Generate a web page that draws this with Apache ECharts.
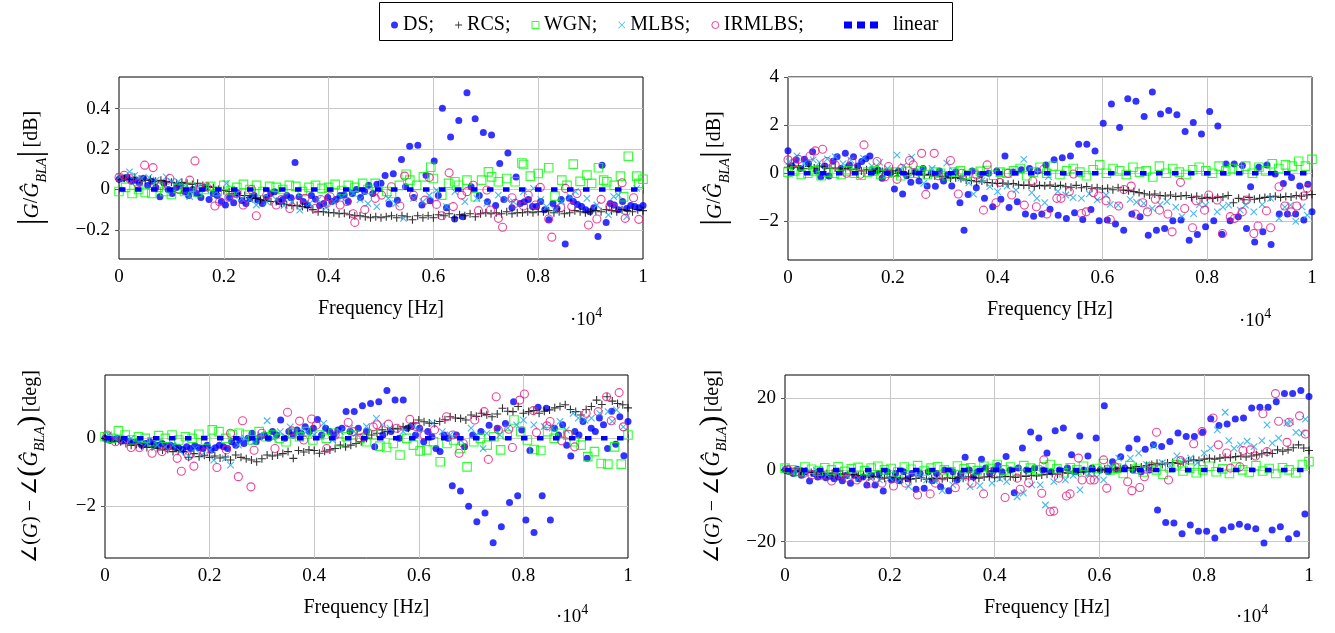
<!DOCTYPE html>
<html><head><meta charset="utf-8">
<script src="https://cdn.jsdelivr.net/npm/echarts@6/dist/echarts.min.js"></script>
<style>html,body{margin:0;padding:0;background:#fff}#c{width:1335px;height:633px}</style>
</head><body><div id="c"></div>
<script>
// ---------------- DATA (frequency in units of 10^4 Hz) ----------------
const xTicks = [0, 0.2, 0.4, 0.6, 0.8, 1];
const magTicksL = [-0.2, 0, 0.2, 0.4];
const magTicksR = [-2, 0, 2, 4];
const phTicksL = [-2, 0];
const phTicksR = [-20, 0, 20];
const linearFreq = [0, 1];
const linearVals = [0, 0];

// Panel: magnitude, left (dB). Plain-number arrays lie on an even frequency grid 0..1.
const dsMagL = [0.05,0.055,0.06,0.04,0.045,0.03,0.055,0.02,0.04,0.01,-0.036,0.03,0.0,-0.02,0.01,0.02,
-0.01,-0.03,0.0,-0.02,-0.04,0.01,-0.05,-0.02,-0.03,-0.06,-0.077,-0.04,-0.066,-0.02,-0.055,-0.07,
-0.045,-0.03,-0.053,-0.07,-0.04,-0.02,-0.011,-0.06,-0.05,-0.03,-0.041,0.133,-0.036,-0.06,-0.077,-0.03,
-0.049,-0.08,-0.069,-0.04,-0.06,-0.05,-0.03,-0.028,-0.06,-0.02,0.0,-0.04,-0.01,0.021,-0.02,0.026,
0.03,0.069,-0.072,0.077,-0.053,0.148,0.013,0.213,-0.04,0.218,-0.077,0.07,-0.056,0.141,-0.03,0.402,
-0.09,0.259,-0.146,0.341,-0.135,0.478,0.013,0.35,-0.03,0.282,-0.061,0.269,-0.08,0.128,-0.05,0.18,
-0.09,0.062,-0.07,-0.061,-0.05,-0.085,-0.085,-0.06,-0.1,-0.15,-0.07,-0.094,-0.05,-0.27,-0.044,-0.06,
-0.075,-0.085,-0.1,-0.11,-0.09,-0.233,0.12,-0.163,-0.07,-0.077,-0.1,-0.06,-0.094,-0.08,-0.085,-0.09,
-0.08];
const rcsMagL = [0.05,0.055,0.05,0.06,0.05,0.045,0.05,0.04,0.045,0.04,0.035,
0.03,0.035,0.03,0.025,0.03,0.02,0.015,0.01,0.0,-0.005,
-0.01,-0.02,-0.03,-0.03,-0.04,-0.045,-0.05,-0.055,-0.06,-0.06,
-0.07,-0.075,-0.08,-0.08,-0.085,-0.09,-0.1,-0.11,-0.11,-0.115,
-0.115,-0.12,-0.118,-0.125,-0.13,-0.13,-0.135,-0.14,-0.135,-0.14,
-0.135,-0.13,-0.14,-0.13,-0.135,-0.15,-0.13,-0.14,-0.13,-0.14,
-0.125,-0.13,-0.12,-0.14,-0.125,-0.13,-0.12,-0.135,-0.12,-0.115,
-0.12,-0.115,-0.12,-0.11,-0.12,-0.115,-0.115,-0.11,-0.115,-0.11,
-0.11,-0.105,-0.115,-0.11,-0.12,-0.115,-0.105,-0.11,-0.115,-0.11,
-0.105,-0.11,-0.1,-0.105,-0.11,-0.1,-0.105,-0.11,-0.1,-0.105];
const wgnMagL = [[0,-0.01],[0.0125,0.01],[0.025,-0.02],[0.0375,0.0],[0.05,-0.015],[0.0625,-0.02],[0.075,0.01],[0.0875,-0.01],[0.1,-0.025],[0.1125,0.005],[0.125,-0.01],[0.1375,0.01],[0.15,-0.015],[0.1625,0.0],[0.175,0.015],[0.1875,-0.01],[0.2,0.02],[0.2125,-0.005],[0.225,0.01],[0.2375,0.025],[0.25,0.0],[0.2625,0.02],[0.275,-0.01],[0.2875,0.015],[0.3,0.01],[0.3125,0.0],[0.325,0.02],[0.3375,0.015],[0.35,-0.01],[0.3625,0.01],[0.375,0.02],[0.3875,0.005],[0.4,0.01],[0.4125,0.025],[0.425,-0.005],[0.4375,0.02],[0.45,0.01],[0.465,0.03],[0.475,0.0],[0.489,0.03],[0.511,-0.01],[0.52,-0.02],[0.535,0.02],[0.548,0.075],[0.555,0.046],[0.568,0.02],[0.581,0.062],[0.595,0.11],[0.6,0.054],[0.616,-0.028],[0.629,0.03],[0.641,0.038],[0.648,0.021],[0.664,0.046],[0.68,-0.036],[0.692,0.046],[0.705,0.087],[0.711,0.062],[0.724,0.038],[0.74,0.054],[0.756,0.038],[0.769,0.131],[0.772,0.123],[0.785,0.066],[0.8,0.079],[0.82,0.107],[0.832,-0.033],[0.845,0.046],[0.855,0.02],[0.867,0.125],[0.88,0.04],[0.893,0.071],[0.902,0.03],[0.915,0.107],[0.925,0.046],[0.931,0.038],[0.945,0.02],[0.957,0.066],[0.963,-0.036],[0.972,0.164],[0.988,0.066],[0.992,0.03],[1.0,0.05]];
const mlbsMagL = [[0.001,0.062],[0.02,0.087],[0.03,0.07],[0.043,0.054],[0.057,0.06],[0.071,0.046],[0.09,0.062],[0.1,0.04],[0.113,0.038],[0.125,0.02],[0.135,-0.036],[0.15,0.01],[0.165,0.0],[0.186,-0.011],[0.205,0.03],[0.22,-0.03],[0.234,-0.044],[0.25,-0.05],[0.262,-0.077],[0.282,-0.061],[0.3,-0.05],[0.315,-0.08],[0.33,-0.06],[0.345,-0.102],[0.364,-0.069],[0.38,-0.05],[0.395,-0.09],[0.41,-0.06],[0.425,-0.04],[0.447,-0.02],[0.46,-0.05],[0.475,-0.07],[0.492,-0.085],[0.514,-0.044],[0.528,-0.07],[0.543,-0.143],[0.562,-0.044],[0.58,-0.06],[0.592,-0.03],[0.606,-0.003],[0.625,-0.085],[0.641,-0.011],[0.66,-0.06],[0.683,-0.044],[0.702,-0.069],[0.724,-0.028],[0.74,-0.05],[0.753,-0.061],[0.772,-0.011],[0.791,0.005],[0.805,-0.05],[0.816,-0.085],[0.832,-0.102],[0.845,-0.06],[0.861,-0.036],[0.871,-0.011],[0.893,-0.044],[0.912,-0.077],[0.934,-0.126],[0.944,-0.036],[0.953,-0.028],[0.969,-0.135],[0.988,0.005]];
const irmlbsMagL = [[0.0,0.06],[0.01,0.07],[0.02,0.054],[0.035,0.03],[0.049,0.12],[0.065,0.108],[0.08,0.02],[0.097,0.054],[0.115,0.0],[0.135,0.046],[0.145,0.141],[0.155,0.01],[0.167,0.013],[0.183,-0.082],[0.192,-0.061],[0.21,-0.04],[0.225,-0.02],[0.237,-0.077],[0.253,0.0],[0.262,-0.13],[0.282,-0.028],[0.3,-0.077],[0.31,-0.05],[0.326,-0.094],[0.34,-0.06],[0.355,-0.044],[0.374,-0.094],[0.385,-0.05],[0.396,-0.069],[0.403,-0.036],[0.422,-0.077],[0.435,-0.06],[0.447,-0.12],[0.45,-0.163],[0.469,-0.1],[0.489,-0.044],[0.501,-0.028],[0.52,0.013],[0.536,-0.082],[0.545,0.066],[0.562,-0.028],[0.584,-0.053],[0.592,0.059],[0.606,-0.074],[0.616,-0.13],[0.63,0.082],[0.638,-0.085],[0.654,-0.028],[0.664,-0.011],[0.676,0.021],[0.686,-0.105],[0.702,-0.003],[0.709,-0.102],[0.724,-0.143],[0.732,-0.187],[0.75,-0.041],[0.756,-0.069],[0.772,-0.082],[0.781,-0.028],[0.795,-0.077],[0.804,0.01],[0.82,-0.146],[0.826,-0.236],[0.843,-0.089],[0.852,0.005],[0.864,-0.085],[0.874,-0.02],[0.896,-0.176],[0.912,-0.146],[0.92,-0.049],[0.937,-0.082],[0.944,-0.09],[0.96,0.033],[0.966,-0.143],[0.982,-0.041],[0.992,-0.148]];

// Panel: magnitude, right (dB)
const dsMagR = [0.94,0.3,0.56,0.2,0.58,0.4,0.9,0.1,-0.14,0.3,-0.11,0.5,0.69,0.2,0.83,0.35,
0.69,0.3,0.49,0.6,0.72,0.1,0.14,-0.2,0.05,0.0,-0.65,0.1,-0.86,-0.1,-0.375,0.05,
-0.32,0.2,-0.53,0.0,-0.54,0.1,-0.32,-0.05,-0.53,0.05,-1.22,-2.36,-0.875,0.1,-0.6,-0.05,
-1.04,0.0,-1.39,0.1,-1.08,0.72,-1.42,0.05,-1.18,0.15,-1.69,0.2,-1.78,0.1,-1.69,0.35,
-1.49,0.56,-1.74,0.65,-1.875,0.72,-1.64,1.21,-1.92,1.21,-1.5,0.93,-1.97,2.08,-1.94,2.88,
-2.11,1.9,-2.36,3.1,-1.69,2.99,-1.8,2.36,-2.57,3.375,-2.36,2.46,-2.29,2.61,-1.97,2.43,
-1.94,1.74,-2.78,2.11,-2.54,1.63,-2.22,2.57,-1.97,1.97,-2.53,0.39,-1.97,0.39,-1.8,0.32,
-2.29,-0.56,-2.85,0.25,-2.43,0.35,-2.96,-0.03,-1.69,-0.42,-1.69,-0.17,-1.69,-0.53,-1.94,-0.45,
-1.6];
const rcsMagR = [0.25,0.3,0.25,0.2,0.28,0.22,0.3,0.25,0.2,0.22,0.18,
0.2,0.15,0.18,0.1,0.15,0.1,0.12,0.08,0.05,0.1,
0.0,0.05,-0.02,0.0,-0.05,-0.08,-0.05,-0.1,-0.12,-0.15,
-0.2,-0.18,-0.22,-0.28,-0.3,-0.35,-0.32,-0.38,-0.4,-0.42,
-0.4,-0.45,-0.42,-0.48,-0.5,-0.49,-0.55,-0.5,-0.52,-0.49,
-0.55,-0.5,-0.56,-0.58,-0.5,-0.6,-0.55,-0.62,-0.6,-0.65,
-0.62,-0.68,-0.6,-0.7,-0.72,-0.76,-0.8,-0.85,-0.9,-0.86,
-0.92,-0.94,-0.9,-0.96,-0.94,-0.92,-1.0,-0.95,-1.04,-1.0,
-1.04,-1.0,-0.98,-0.92,-1.22,-1.04,-1.1,-1.0,-1.08,-1.04,
-1.0,-0.98,-0.95,-1.0,-0.96,-0.98,-0.92,-0.95,-0.9,-0.88];
const wgnMagR = [0.05,0.1,-0.05,0.0,0.1,-0.1,0.05,0.0,-0.05,0.1,0.0,-0.08,0.05,0.1,-0.05,0.0,0.05,-0.1,0.08,0.0,
0.1,-0.05,0.05,0.0,-0.1,0.05,0.1,-0.05,0.0,0.08,0.12,-0.08,0.05,0.0,0.1,0.2,-0.1,0.05,0.25,0.0,
0.3,-0.05,0.1,0.2,0.05,-0.1,0.15,0.35,0.0,0.2,0.1,-0.05,0.25,0.05,0.1,-0.15,0.3,0.0,0.2,0.05,
-0.05,0.15,0.25,0.1,0.0,0.3,0.1,0.2,0.15,0.3,0.0,0.25,0.1,0.4,0.2,0.35,0.3,0.5,0.3,0.58];
const mlbsMagR = [[0.002,0.49],[0.017,0.72],[0.03,0.4],[0.048,0.56],[0.06,0.45],[0.075,0.6],[0.09,0.69],[0.105,0.4],[0.12,0.55],[0.144,0.63],[0.16,0.3],[0.175,0.45],[0.19,0.2],[0.208,0.76],[0.22,0.3],[0.236,0.67],[0.25,0.1],[0.259,-0.42],[0.275,0.2],[0.29,0.0],[0.303,0.42],[0.315,0.1],[0.33,-0.2],[0.345,-0.4],[0.354,-0.86],[0.37,-0.3],[0.385,-0.55],[0.4,-0.76],[0.418,-0.53],[0.435,-0.7],[0.45,0.58],[0.465,-0.8],[0.475,-1.04],[0.49,-1.22],[0.497,-0.14],[0.515,-0.75],[0.53,-0.9],[0.544,-1.01],[0.56,-1.04],[0.575,-0.85],[0.59,-1.1],[0.607,-0.9],[0.615,-1.29],[0.63,-1.32],[0.653,-1.08],[0.665,-1.2],[0.679,-1.25],[0.695,-1.46],[0.71,-1.3],[0.723,-1.18],[0.74,-1.4],[0.752,-1.8],[0.774,-1.67],[0.785,-1.3],[0.797,-1.32],[0.819,-1.6],[0.83,-1.4],[0.841,-1.32],[0.863,-1.53],[0.873,-1.32],[0.889,-1.6],[0.905,-1.3],[0.921,-1.04],[0.937,-1.875],[0.948,-1.4],[0.959,-1.32],[0.969,-2.0],[0.981,-1.39],[0.991,-1.74]];
const irmlbsMagR = [[0.0,0.56],[0.013,0.44],[0.02,0.58],[0.042,0.72],[0.052,0.93],[0.066,1.0],[0.074,0.49],[0.09,0.35],[0.112,0.0],[0.122,0.49],[0.138,-0.04],[0.145,1.18],[0.17,0.49],[0.185,-0.14],[0.192,0.28],[0.208,-0.25],[0.217,0.2],[0.232,0.53],[0.239,0.35],[0.255,0.83],[0.263,-0.875],[0.279,0.83],[0.287,-0.1],[0.31,0.53],[0.325,-0.86],[0.332,0.0],[0.36,-0.07],[0.373,-1.53],[0.38,0.35],[0.397,-1.22],[0.404,-0.375],[0.42,0.0],[0.427,-0.9],[0.451,-1.32],[0.467,-0.32],[0.474,-1.39],[0.488,0.17],[0.494,-1.69],[0.513,-1.04],[0.521,-1.04],[0.537,-0.76],[0.545,-0.03],[0.56,-1.67],[0.569,-1.6],[0.583,-0.8],[0.593,-0.94],[0.607,-1.14],[0.615,-1.92],[0.631,-1.36],[0.641,-0.67],[0.655,-0.53],[0.663,-1.69],[0.677,-1.22],[0.686,-1.6],[0.701,-1.08],[0.709,-1.53],[0.725,-1.69],[0.733,-2.43],[0.749,-0.375],[0.757,-1.46],[0.772,-2.26],[0.779,-1.14],[0.795,-1.53],[0.803,-0.9],[0.819,-1.11],[0.829,-2.5],[0.844,-1.8],[0.852,-1.875],[0.867,-1.6],[0.875,-1.11],[0.889,-2.5],[0.897,-2.19],[0.913,-1.56],[0.921,-2.26],[0.937,-0.56],[0.948,-1.36],[0.96,-1.6],[0.971,-1.36],[0.984,-0.94],[0.991,-0.625]];

// Panel: phase, left (deg)
const dsPhL = [0.0,-0.05,-0.03,0.0,-0.08,-0.05,-0.1,-0.12,-0.1,-0.2,-0.15,-0.1,-0.18,-0.2,-0.15,-0.22,
-0.2,-0.25,-0.28,-0.33,-0.25,-0.3,-0.22,-0.28,-0.3,-0.2,-0.34,-0.28,-0.2,-0.25,-0.3,-0.1,
-0.2,-0.05,-0.15,0.0,0.15,-0.1,0.05,0.1,0.0,0.2,0.1,0.54,0.0,0.2,0.1,0.25,
0.15,0.34,0.2,0.3,0.56,0.1,0.3,0.2,0.1,0.25,0.3,0.79,0.2,0.79,0.3,0.96,
0.2,1.03,-0.25,1.08,0.1,1.41,0.2,1.13,0.0,1.13,0.3,0.35,0.1,0.3,-0.1,0.2,
0.05,-0.3,-0.39,0.1,0.0,-1.4,0.1,-1.55,-0.25,-2.0,0.1,-2.46,0.2,-2.2,0.39,-3.08,
0.3,-2.61,0.44,-1.89,1.08,-1.69,0.25,-2.41,-0.36,-2.78,0.92,-1.69,0.89,-2.41,0.3,0.1,
0.4,-0.2,-0.52,0.2,0.1,0.5,-0.59,0.3,0.2,0.6,0.4,-0.3,0.8,-0.17,0.64,-0.51,
0.5];
const rcsPhL = [0.0,-0.05,-0.08,-0.1,-0.15,-0.2,-0.18,-0.22,-0.27,-0.25,-0.3,
-0.34,-0.32,-0.39,-0.36,-0.39,-0.56,-0.45,-0.54,-0.5,-0.56,
-0.52,-0.58,-0.55,-0.64,-0.49,-0.56,-0.6,-0.64,-0.69,-0.6,
-0.49,-0.52,-0.49,-0.45,-0.39,-0.59,-0.36,-0.4,-0.34,-0.36,
-0.44,-0.38,-0.34,-0.3,-0.2,-0.25,-0.2,-0.15,-0.1,0.0,
0.1,0.15,0.25,0.2,0.3,0.28,0.34,0.3,0.45,0.54,
0.49,0.45,0.44,0.5,0.55,0.64,0.6,0.59,0.54,0.69,
0.65,0.74,0.7,0.64,0.72,0.89,0.8,0.79,0.94,0.74,
0.79,0.82,0.74,0.8,0.84,0.9,0.94,0.99,0.85,0.79,
0.69,0.85,0.94,1.13,1.0,1.23,1.1,1.03,0.99,0.9];
const wgnPhL = [0.05,0.0,0.22,0.1,-0.05,0.05,0.0,-0.1,0.08,0.0,0.1,-0.05,0.05,0.0,0.12,-0.05,0.25,0.2,0.0,0.1,0.15,
0.1,-0.05,0.2,0.05,0.1,0.0,-0.1,0.15,0.05,0.2,-0.05,0.1,0.0,0.15,-0.1,0.05,0.1,0.0,-0.1,
0.1,-0.23,-0.27,-0.15,-0.49,0.0,-0.2,-0.37,-0.34,-0.1,-0.69,-0.15,-0.05,-0.3,-0.84,-0.1,0.0,-0.2,0.05,
-0.34,0.1,0.54,0.2,-0.05,-0.33,-0.36,0.2,0.0,0.15,0.1,-0.1,-0.2,-0.54,-0.39,-0.74,-0.76,-0.25,-0.76,0.1];
const mlbsPhL = [[0.007,0.1],[0.02,0.0],[0.035,-0.05],[0.05,0.0],[0.065,-0.1],[0.08,-0.15],[0.1,-0.2],[0.115,-0.25],[0.13,-0.2],[0.144,-0.39],[0.16,-0.52],[0.172,-0.3],[0.185,-0.49],[0.2,-0.35],[0.208,-0.64],[0.23,-0.59],[0.24,-0.79],[0.255,-0.2],[0.268,0.0],[0.285,-0.1],[0.298,0.1],[0.31,0.52],[0.322,0.0],[0.335,0.2],[0.354,0.34],[0.37,0.15],[0.385,0.2],[0.4,0.1],[0.418,0.44],[0.435,-0.05],[0.45,0.2],[0.468,0.3],[0.48,0.15],[0.5,0.35],[0.519,0.59],[0.53,0.4],[0.545,0.3],[0.57,0.2],[0.59,0.35],[0.6,0.25],[0.627,0.45],[0.645,0.2],[0.66,0.1],[0.68,-0.05],[0.7,0.3],[0.71,0.1],[0.723,-0.3],[0.73,0.15],[0.755,0.1],[0.77,0.3],[0.787,0.4],[0.8,0.54],[0.82,0.4],[0.84,0.35],[0.855,0.3],[0.87,0.5],[0.882,0.25],[0.895,0.74],[0.905,0.6],[0.918,0.54],[0.93,0.6],[0.946,0.74],[0.962,0.79],[0.97,0.5],[0.978,0.84],[0.991,0.34]];
const irmlbsPhL = [[0.004,0.1],[0.02,-0.1],[0.035,-0.05],[0.05,-0.27],[0.066,-0.27],[0.09,-0.44],[0.109,-0.39],[0.118,-0.27],[0.138,-0.59],[0.146,-0.97],[0.16,-0.52],[0.17,-0.82],[0.19,-0.4],[0.214,-0.86],[0.232,-0.34],[0.24,0.15],[0.255,-1.13],[0.263,0.52],[0.279,-1.43],[0.285,-0.35],[0.3,0.15],[0.325,-0.3],[0.349,0.77],[0.357,0.22],[0.372,0.51],[0.38,-0.05],[0.395,0.57],[0.404,0.39],[0.424,-0.3],[0.44,0.1],[0.465,0.47],[0.475,0.2],[0.487,0.0],[0.495,0.05],[0.513,0.34],[0.52,0.4],[0.542,0.42],[0.558,0.3],[0.583,0.56],[0.595,0.35],[0.61,0.1],[0.63,0.25],[0.653,0.64],[0.665,0.1],[0.677,-0.44],[0.685,-0.15],[0.707,0.54],[0.725,0.79],[0.733,-0.62],[0.748,1.23],[0.752,0.25],[0.772,0.27],[0.779,-0.27],[0.793,1.13],[0.802,1.31],[0.819,0.82],[0.825,0.17],[0.845,0.37],[0.851,0.5],[0.873,-0.07],[0.886,0.12],[0.898,-0.25],[0.92,0.74],[0.943,0.79],[0.959,1.23],[0.968,0.52],[0.983,1.35],[0.991,0.34]];

// Panel: phase, right (deg)
const dsPhR = [0.0,-0.5,-1.0,0.2,-1.5,-0.5,-3.1,-1.0,-2.0,-1.5,-2.2,-1.8,-2.5,-2.0,-3.0,-1.5,
-3.7,-1.5,-2.5,-2.0,-4.2,-1.5,-4.2,-1.0,-5.9,-0.5,-2.8,-1.0,-3.0,-0.5,-2.5,-1.0,
-5.4,-1.0,-5.1,-0.5,-3.0,-1.0,-4.7,0.0,-5.8,-0.5,-2.8,-1.0,3.55,0.0,-2.0,-0.5,
3.0,0.5,-1.0,0.0,1.2,-0.5,3.74,0.0,-6.4,0.5,6.1,0.0,10.6,0.5,8.9,0.0,
4.7,-0.5,10.9,0.0,11.7,0.5,4.2,-0.5,9.5,0.0,3.9,0.5,8.9,0.0,17.9,-0.5,
2.3,0.0,3.7,0.5,6.1,0.0,8.6,-0.5,5.8,0.0,7.0,-11.2,6.5,-14.7,7.9,-14.8,
10.3,-17.8,9.3,-15.4,9.3,-17.1,10.5,-17.1,14.3,-19.0,12.4,-16.8,12.8,-15.9,14.2,-15.2,
14.5,-15.9,17.3,-16.4,17.5,-20.4,17.5,-16.8,19.0,-15.9,21.3,-19.2,21.3,-17.8,22.2,-12.3,
20.5];
const rcsPhR = [0.0,-0.2,-0.3,-0.5,-0.4,-0.7,-0.8,-0.6,-1.0,-0.9,-1.2,
-1.1,-1.4,-1.3,-1.6,-1.5,-2.0,-1.8,-2.1,-2.3,-2.0,
-2.2,-2.5,-2.3,-2.6,-2.4,-2.2,-2.6,-2.4,-2.3,-2.5,
-2.2,-2.4,-2.0,-2.3,-1.9,-2.1,-2.3,-2.0,-1.9,-2.2,
-2.0,-1.8,-1.9,-2.1,-1.7,-1.8,-1.5,-1.7,-1.4,-1.2,
-1.0,-1.2,-0.8,-0.9,-0.5,-0.7,-0.3,-0.5,-0.2,0.0,
0.2,0.0,0.47,0.3,0.6,0.5,0.93,0.8,1.2,1.5,
1.87,1.5,1.9,2.06,1.8,2.2,2.5,2.8,2.6,3.0,
3.27,3.0,3.3,3.55,3.4,3.7,3.9,3.6,3.9,4.2,
4.5,4.86,4.6,5.6,5.2,5.6,6.2,7.0,6.1,5.4];
const wgnPhR = [0.5,0.0,-0.5,0.8,0.2,-0.3,0.6,0.0,0.9,-0.4,0.3,0.7,-0.2,0.5,1.0,0.0,
0.4,-0.6,0.8,0.2,1.2,-0.3,0.5,0.9,0.0,-0.5,1.1,0.3,0.6,-0.2,
1.0,0.4,1.5,0.0,0.8,-0.4,1.2,0.5,0.0,0.9,
1.5,0.3,-0.8,0.6,0.0,1.0,-0.5,0.4,1.8,0.0,
0.5,-1.0,1.2,0.2,-0.6,0.8,0.0,-1.2,0.6,1.4,
-0.3,0.5,-0.8,0.0,1.0,-0.5,0.3,-1.0,0.8,0.0,
-0.6,1.2,-0.3,0.4,-1.0,0.6,0.0,-0.8,1.5,2.3];
const mlbsPhR = [[0.0,0.5],[0.02,-0.3],[0.04,-0.8],[0.06,-0.2],[0.08,-1.4],[0.1,-1.0],[0.12,-1.9],[0.14,-2.3],[0.16,-1.5],[0.18,-2.8],[0.2,-2.3],[0.22,-2.8],[0.236,-4.7],[0.255,-1.6],[0.27,-2.8],[0.285,-3.0],[0.3,-5.8],[0.32,-4.2],[0.34,-2.2],[0.353,-4.7],[0.372,-4.4],[0.395,-3.7],[0.41,-2.5],[0.423,-3.3],[0.443,-7.5],[0.455,-6.5],[0.471,-4.2],[0.487,-4.2],[0.497,-9.8],[0.513,-3.3],[0.535,-2.8],[0.55,-1.5],[0.563,-5.6],[0.58,-1.0],[0.595,-2.0],[0.608,-2.8],[0.622,0.5],[0.637,3.3],[0.659,3.3],[0.675,4.7],[0.69,1.5],[0.704,6.7],[0.72,2.0],[0.735,1.2],[0.748,3.9],[0.762,2.5],[0.774,3.3],[0.787,2.0],[0.8,4.7],[0.812,6.0],[0.825,11.2],[0.84,16.1],[0.847,8.2],[0.857,6.0],[0.869,7.0],[0.882,8.0],[0.895,6.5],[0.91,8.2],[0.92,12.6],[0.93,7.5],[0.942,8.9],[0.958,13.1],[0.965,13.5],[0.975,10.5],[0.987,10.3],[0.993,14.2]];
const irmlbsPhR = [[0.006,0.0],[0.02,-0.5],[0.035,-1.0],[0.051,-1.4],[0.07,-1.5],[0.089,-3.1],[0.105,-1.4],[0.12,-2.3],[0.137,-2.8],[0.162,-3.7],[0.185,-3.7],[0.207,-4.5],[0.23,-3.7],[0.253,-7.0],[0.277,-6.7],[0.287,-3.7],[0.303,-1.7],[0.325,-5.0],[0.347,-1.4],[0.357,-3.7],[0.379,-6.7],[0.395,-0.5],[0.42,-7.7],[0.443,-2.3],[0.449,-5.4],[0.465,-3.6],[0.49,-6.5],[0.494,2.8],[0.506,-11.7],[0.513,-11.5],[0.522,-2.3],[0.537,-7.3],[0.544,-6.7],[0.56,3.3],[0.567,-2.8],[0.583,-2.8],[0.59,-2.8],[0.608,2.8],[0.614,-5.1],[0.63,0.9],[0.654,-3.3],[0.662,-5.8],[0.677,-4.9],[0.686,-1.9],[0.7,0.9],[0.709,10.5],[0.732,-2.8],[0.755,2.6],[0.78,7.3],[0.796,10.7],[0.817,14.5],[0.827,7.0],[0.843,4.7],[0.85,0.5],[0.868,0.9],[0.874,5.4],[0.888,5.6],[0.898,3.9],[0.912,15.7],[0.92,5.1],[0.936,21.3],[0.942,13.6],[0.958,7.7],[0.962,13.3],[0.982,15.1],[0.993,10.0]];

// ---------------- STYLE / LAYOUT ----------------
const SERIF = '"Liberation Serif","Times New Roman",serif';
const BLUE = '#0000ff', GREEN = '#00ff00', CYAN = '#18a8e8', MAGENTA = '#e8177f';
const GRIDC = '#c8c8c8';

function pts(arr) {
  const n = arr.length;
  return arr.map((v, i) => Array.isArray(v) ? v : [i / (n - 1), v]);
}
function fmt(v) { return v === 0 ? '0' : (v < 0 ? '\u2212' : '') + String(Math.abs(v)); }

const richName = {
  rm: {fontFamily: SERIF, fontSize: 20, color: '#000'},
  it: {fontFamily: SERIF, fontStyle: 'italic', fontSize: 21, color: '#000'},
  sub: {fontFamily: SERIF, fontStyle: 'italic', fontSize: 14, color: '#000', verticalAlign: 'bottom', lineHeight: 22},
  bar: {fontFamily: SERIF, fontSize: 34, color: '#000'},
  par: {fontFamily: SERIF, fontSize: 32, color: '#000'}
};
const magName = '{bar||}{it|G}{rm|/}{it|\u011C}{sub|BLA}{bar||} {rm|[dB]}';
const phName = '{rm|\u2220(}{it|G}{rm|) \u2212 \u2220}{par|(}{it|\u011C}{sub|BLA}{par|)} {rm|[deg]}';

const panels = [
  {grid: {left: 119, top: 77, width: 524, height: 182}, ymin: -0.344, ymax: 0.556, yTicks: magTicksL, name: magName, nameGap: 70,
   d: [dsMagL, rcsMagL, wgnMagL, mlbsMagL, irmlbsMagL], tenPos: [570, 306]},
  {grid: {left: 788, top: 77, width: 524, height: 183}, ymin: -3.6, ymax: 4, yTicks: magTicksR, name: magName, nameGap: 56,
   d: [dsMagR, rcsMagR, wgnMagR, mlbsMagR, irmlbsMagR], tenPos: [1239, 307]},
  {grid: {left: 105, top: 375, width: 523, height: 183}, ymin: -3.53, ymax: 1.87, yTicks: phTicksL, name: phName, nameGap: 58,
   d: [dsPhL, rcsPhL, wgnPhL, mlbsPhL, irmlbsPhL], tenPos: [556, 603]},
  {grid: {left: 785, top: 375, width: 524, height: 183}, ymin: -24.6, ymax: 26.5, yTicks: phTicksR, name: phName, nameGap: 56,
   d: [dsPhR, rcsPhR, wgnPhR, mlbsPhR, irmlbsPhR], tenPos: [1236, 603]}
];

const defs = [
  {name: 'DS', symbol: 'circle', size: 7, itemStyle: {color: BLUE}},
  {name: 'RCS', symbol: 'path://M0,5H10M5,0V10', size: 8, itemStyle: {color: 'transparent', borderColor: '#000', borderWidth: 1.1}},
  {name: 'WGN', symbol: 'rect', size: 8.5, itemStyle: {color: 'transparent', borderColor: GREEN, borderWidth: 1.1}},
  {name: 'MLBS', symbol: 'path://M0,0L10,10M10,0L0,10', size: 6.5, itemStyle: {color: 'transparent', borderColor: CYAN, borderWidth: 1.1}},
  {name: 'IRMLBS', symbol: 'circle', size: 8, itemStyle: {color: 'transparent', borderColor: MAGENTA, borderWidth: 1.1}}
];

const grids = [], xAxes = [], yAxes = [], series = [], graphics = [];
const tickStyle = {color: '#555', width: 1};
panels.forEach((p, i) => {
  grids.push(Object.assign({show: true, borderColor: '#000', borderWidth: 1, backgroundColor: 'transparent', containLabel: false}, p.grid));
  xAxes.push({gridIndex: i, type: 'value', min: 0, max: 1, position: 'bottom',
    axisLine: {show: false}, splitLine: {show: false},
    axisTick: {show: true, inside: true, length: 4, customValues: xTicks, lineStyle: tickStyle},
    axisLabel: {customValues: xTicks, formatter: fmt, fontFamily: SERIF, fontSize: 19, color: '#000', margin: 9},
    name: 'Frequency [Hz]', nameLocation: 'middle', nameGap: 40,
    nameTextStyle: {fontFamily: SERIF, fontSize: 20, color: '#000'}});
  xAxes.push({gridIndex: i, type: 'value', min: 0, max: 1, position: 'top',
    axisLine: {show: false}, splitLine: {show: false},
    axisTick: {show: true, inside: true, length: 4, customValues: xTicks, lineStyle: tickStyle},
    axisLabel: {show: false}});
  yAxes.push({gridIndex: i, type: 'value', min: p.ymin, max: p.ymax, position: 'left',
    axisLine: {show: false}, splitLine: {show: false},
    axisTick: {show: true, inside: true, length: 4, customValues: p.yTicks, lineStyle: tickStyle},
    axisLabel: {customValues: p.yTicks, formatter: fmt, fontFamily: SERIF, fontSize: 19, color: '#000', margin: 9},
    name: p.name, nameLocation: 'middle', nameGap: p.nameGap, nameRotate: 90,
    nameTextStyle: {rich: richName}});
  yAxes.push({gridIndex: i, type: 'value', min: p.ymin, max: p.ymax, position: 'right',
    axisLine: {show: false}, splitLine: {show: false},
    axisTick: {show: true, inside: true, length: 4, customValues: p.yTicks, lineStyle: tickStyle},
    axisLabel: {show: false}});

  const gridLines = xTicks.filter(v => v > 0 && v < 1).map(v => ({xAxis: v}))
    .concat(p.yTicks.map(v => ({yAxis: v})));

  defs.forEach((d, k) => {
    const s = {type: 'scatter', name: d.name, xAxisIndex: 2 * i, yAxisIndex: 2 * i,
      data: pts(p.d[k]), symbol: d.symbol, symbolSize: d.size, itemStyle: d.itemStyle,
      silent: true, animation: false, emphasis: {disabled: true}};
    if (k === 0) {
      s.markLine = {silent: true, symbol: ['none', 'none'], label: {show: false}, animation: false, z: 1,
        lineStyle: {color: GRIDC, type: 'solid', width: 1}, emphasis: {disabled: true}, data: gridLines};
    }
    series.push(s);
  });
  series.push({type: 'line', name: 'linear', xAxisIndex: 2 * i, yAxisIndex: 2 * i,
    data: linearFreq.map((f, j) => [f, linearVals[j]]), symbol: 'none', silent: true, animation: false,
    lineStyle: {color: BLUE, width: 4.5, type: [6.5, 9.5], cap: 'butt'}, itemStyle: {color: BLUE}, z: 3});

  graphics.push({type: 'text', left: p.tenPos[0], top: p.tenPos[1], silent: true,
    style: {text: '{a|\u00B710}{b|4}', rich: {
      a: {fontFamily: SERIF, fontSize: 19, fill: '#000', color: '#000', verticalAlign: 'bottom', lineHeight: 24},
      b: {fontFamily: SERIF, fontSize: 14, fill: '#000', color: '#000', verticalAlign: 'top', lineHeight: 24}}}});
});

graphics.push({type: 'rect', left: 379, top: 2, silent: true, z: 0,
  shape: {width: 573, height: 38}, style: {fill: 'transparent', stroke: '#000', lineWidth: 1}});

const legendText = {fontFamily: SERIF, fontSize: 20, color: '#000'};
const option = {
  backgroundColor: '#fff',
  animation: false,
  grid: grids, xAxis: xAxes, yAxis: yAxes, series: series, graphic: graphics,
  legend: [
    {left: 386, top: 10, itemWidth: 7, itemHeight: 7, itemGap: 21, selectedMode: false,
     formatter: n => n + ';', textStyle: legendText,
     data: [
       {name: 'DS', icon: 'circle', itemStyle: {color: BLUE}},
       {name: 'RCS', icon: 'path://M4.4,0H5.6V4.4H10V5.6H5.6V10H4.4V5.6H0V4.4H4.4Z', itemStyle: {color: '#000', borderWidth: 0}},
       {name: 'WGN', icon: 'rect', itemStyle: {color: 'transparent', borderColor: GREEN, borderWidth: 1}},
       {name: 'MLBS', icon: 'path://M0,0.8L0.8,0L5,4.2L9.2,0L10,0.8L5.8,5L10,9.2L9.2,10L5,5.8L0.8,10L0,9.2L4.2,5Z', itemStyle: {color: CYAN, borderWidth: 0}},
       {name: 'IRMLBS', icon: 'circle', itemStyle: {color: 'transparent', borderColor: MAGENTA, borderWidth: 1}}
     ]},
    {left: 839, top: 10, itemWidth: 34, itemHeight: 7, selectedMode: false, textStyle: Object.assign({padding: [0, 0, 0, 10]}, legendText),
     data: [{name: 'linear', icon: 'path://M0,0H8V7H0Z M13,0H21V7H13Z M26,0H34V7H26Z', itemStyle: {color: BLUE}}]}
  ]
};

const chart = echarts.init(document.getElementById('c'), null, {renderer: 'canvas', width: 1335, height: 633});
chart.setOption(option);
</script></body></html>
